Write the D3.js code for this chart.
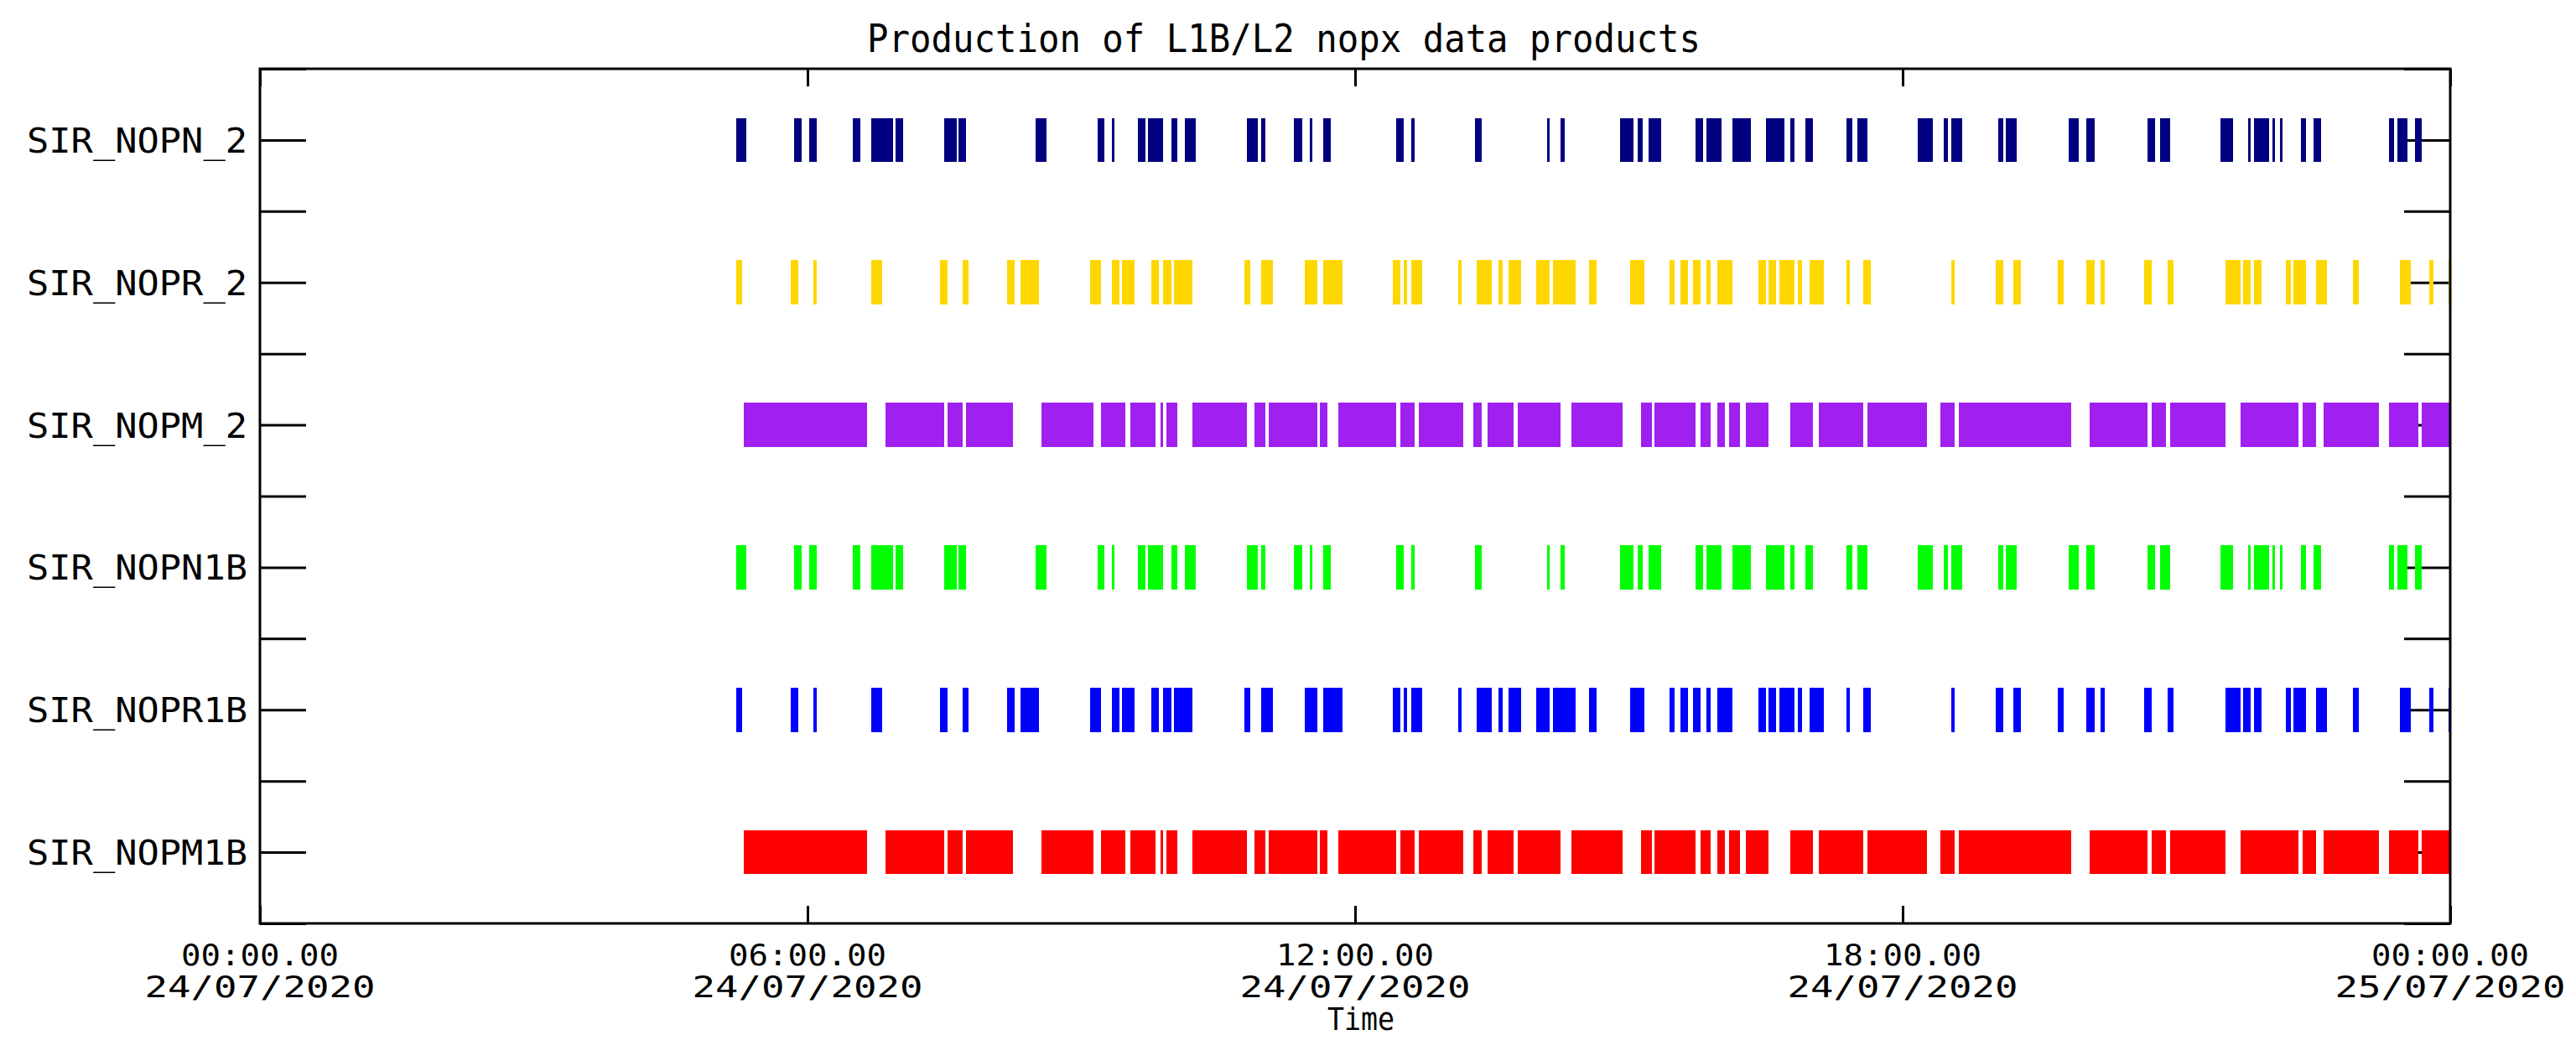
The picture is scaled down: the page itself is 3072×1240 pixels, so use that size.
<!DOCTYPE html>
<html>
<head>
<meta charset="utf-8">
<script src="https://cdn.jsdelivr.net/npm/d3@7"></script>
<style>
  body { margin: 0; background: #fff; }
  svg { display: block; }
  text { font-family: "DejaVu Sans Mono", monospace; fill: #000; }
</style>
</head>
<body>
<svg id="chart" width="3072" height="1240"></svg>
<script>
// Products, bottom row first
var products = ["SIR_NOPM1B", "SIR_NOPR1B", "SIR_NOPN1B", "SIR_NOPM_2", "SIR_NOPR_2", "SIR_NOPN_2"];
var colours  = ["#ff0000", "#0000ff", "#00ff00", "#a020f0", "#ffd700", "#000080"];

// Time axis ticks (hours from 24/07/2020 00:00) and their two-line labels
var tickHours = [0, 6, 12, 18, 24];
var tickTime  = ["00:00.00", "06:00.00", "12:00.00", "18:00.00", "00:00.00"];
var tickDate  = ["24/07/2020", "24/07/2020", "24/07/2020", "24/07/2020", "25/07/2020"];

// Production intervals (start-end, HH:MM)
var nopn_2 = ["05:13-05:20", "05:51-05:56", "06:01-06:06", "06:30-06:35", "06:42-06:56",
  "06:58-07:03", "07:30-07:38", "07:39-07:44", "08:30-08:37", "09:11-09:15", "09:20-09:22",
  "09:37-09:42", "09:44-09:54", "09:59-10:03", "10:08-10:15", "10:49-10:56", "10:58-11:01",
  "11:20-11:25", "11:30-11:32", "11:39-11:44", "12:27-12:32", "12:37-12:39", "13:19-13:23",
  "14:06-14:08", "14:15-14:18", "14:54-15:03", "15:06-15:09", "15:13-15:21", "15:44-15:49",
  "15:51-16:01", "16:08-16:20", "16:30-16:42", "16:46-16:49", "16:56-17:01", "17:23-17:27",
  "17:30-17:37", "18:10-18:20", "18:27-18:30", "18:32-18:39", "19:03-19:06", "19:08-19:15",
  "19:49-19:56", "20:01-20:06", "20:41-20:46", "20:49-20:56", "21:29-21:37", "21:47-21:49",
  "21:51-22:01", "22:03-22:05", "22:08-22:10", "22:22-22:25", "22:30-22:35", "23:20-23:23",
  "23:25-23:32", "23:37-23:41"];

var nopr_2 = ["05:13-05:17", "05:49-05:54", "06:04-06:06", "06:42-06:49", "07:27-07:32",
  "07:42-07:46", "08:11-08:16", "08:20-08:32", "09:06-09:13", "09:20-09:25", "09:27-09:35",
  "09:46-09:51", "09:54-09:59", "10:01-10:13", "10:47-10:51", "10:58-11:06", "11:27-11:35",
  "11:39-11:52", "12:25-12:30", "12:32-12:34", "12:37-12:44", "13:08-13:10", "13:20-13:30",
  "13:34-13:37", "13:41-13:49", "13:59-14:08", "14:10-14:25", "14:34-14:39", "15:01-15:10",
  "15:27-15:30", "15:34-15:39", "15:42-15:47", "15:51-15:54", "15:58-16:08", "16:25-16:30",
  "16:32-16:37", "16:39-16:49", "16:51-16:54", "16:59-17:08", "17:23-17:25", "17:34-17:39",
  "18:32-18:34", "19:01-19:06", "19:13-19:18", "19:42-19:46", "20:01-20:06", "20:10-20:13",
  "20:39-20:44", "20:54-20:58", "21:32-21:42", "21:44-21:49", "21:51-21:56", "22:12-22:15",
  "22:17-22:25", "22:32-22:39", "22:56-23:00", "23:27-23:34", "23:46-23:49", "23:59-24:00"];

var nopm_2 = ["05:18-06:39", "06:51-07:30", "07:32-07:42", "07:44-08:15", "08:34-09:08",
  "09:13-09:29", "09:32-09:49", "09:52-09:54", "09:56-10:03", "10:13-10:49", "10:54-11:01",
  "11:03-11:35", "11:37-11:42", "11:49-12:27", "12:30-12:39", "12:42-13:11", "13:18-13:23",
  "13:27-13:44", "13:47-14:15", "14:22-14:56", "15:08-15:15", "15:17-15:44", "15:47-15:54",
  "15:58-16:03", "16:06-16:13", "16:17-16:32", "16:46-17:01", "17:05-17:34", "17:37-18:16",
  "18:25-18:34", "18:37-19:51", "20:03-20:41", "20:44-20:53", "20:56-21:32", "21:42-22:20",
  "22:23-22:32", "22:37-23:13", "23:20-23:39", "23:41-24:00"];

// the L1B rows show the same pattern as their L2 rows
var nopn1b = nopn_2.slice();
var nopr1b = nopr_2.slice();
var nopm1b = nopm_2.slice();

var intervals = [nopm1b, nopr1b, nopn1b, nopm_2, nopr_2, nopn_2];

// Plot frame
var plotL = 310, plotR = 2922, plotT = 82, plotB = 1101;

var svg = d3.select("#chart");
var day0 = new Date(2020, 6, 24);

var x = d3.scaleTime()
  .domain([day0, d3.timeDay.offset(day0, 1)])
  .range([plotL, plotR]);
var y = d3.scaleLinear()
  .domain([0.5, 6.5])
  .range([plotB, plotT]);

function toDate(hhmm) {
  var p = hhmm.split(":");
  return d3.timeMinute.offset(day0, (+p[0]) * 60 + (+p[1]));
}

// Ticks on all four sides, pointing inward
var xTicks = tickHours.map(function(h) { return d3.timeHour.offset(day0, h); });
var yTicks = d3.range(0.5, 6.51, 0.5);

function styleAxis(g) {
  g.select(".domain").remove();
  g.selectAll(".tick line").attr("stroke", "#000").attr("stroke-width", 3);
  g.selectAll(".tick text").remove();
}

svg.append("g")
  .attr("transform", "translate(0," + plotB + ")")
  .call(d3.axisBottom(x).tickValues(xTicks).tickSizeInner(-21).tickSizeOuter(0))
  .call(styleAxis);
svg.append("g")
  .attr("transform", "translate(0," + plotT + ")")
  .call(d3.axisTop(x).tickValues(xTicks).tickSizeInner(-21).tickSizeOuter(0))
  .call(styleAxis);
svg.append("g")
  .attr("transform", "translate(" + plotL + ",0)")
  .call(d3.axisLeft(y).tickValues(yTicks).tickSizeInner(-55).tickSizeOuter(0))
  .call(styleAxis);
svg.append("g")
  .attr("transform", "translate(" + plotR + ",0)")
  .call(d3.axisRight(y).tickValues(yTicks).tickSizeInner(-55).tickSizeOuter(0))
  .call(styleAxis);

// Bars: one row per product
var half = 0.155;
products.forEach(function(name, i) {
  var row = i + 1;
  svg.append("g")
    .selectAll("rect")
    .data(intervals[i])
    .enter()
    .append("rect")
      .attr("x", function(d) { return x(toDate(d.split("-")[0])); })
      .attr("width", function(d) {
        var se = d.split("-");
        return x(toDate(se[1])) - x(toDate(se[0]));
      })
      .attr("y", y(row + half))
      .attr("height", y(row - half) - y(row + half))
      .attr("fill", colours[i])
      .attr("shape-rendering", "crispEdges");
});

// Frame
svg.append("rect")
  .attr("x", plotL).attr("y", plotT)
  .attr("width", plotR - plotL).attr("height", plotB - plotT)
  .attr("fill", "none").attr("stroke", "#000").attr("stroke-width", 3);

// Row labels
svg.append("g")
  .selectAll("text")
  .data(products)
  .enter()
  .append("text")
    .attr("x", 295)
    .attr("y", function(d, i) { return y(i + 1) + 15; })
    .attr("text-anchor", "end")
    .attr("font-size", 40)
    .attr("textLength", 263)
    .attr("lengthAdjust", "spacingAndGlyphs")
    .text(function(d) { return d; });

// Time labels, two lines each
var xl = svg.append("g")
  .selectAll("g")
  .data(xTicks)
  .enter()
  .append("g");
xl.append("text")
  .attr("x", function(d) { return x(d); })
  .attr("y", 1151)
  .attr("text-anchor", "middle")
  .attr("font-size", 36)
  .attr("textLength", 188)
  .attr("lengthAdjust", "spacingAndGlyphs")
  .text(function(d, i) { return tickTime[i]; });
xl.append("text")
  .attr("x", function(d) { return x(d); })
  .attr("y", 1189)
  .attr("text-anchor", "middle")
  .attr("font-size", 36)
  .attr("textLength", 275)
  .attr("lengthAdjust", "spacingAndGlyphs")
  .text(function(d, i) { return tickDate[i]; });

// Axis title and plot title
svg.append("text")
  .attr("x", 1623).attr("y", 1228)
  .attr("text-anchor", "middle")
  .attr("font-size", 38)
  .attr("textLength", 80)
  .attr("lengthAdjust", "spacingAndGlyphs")
  .text("Time");

svg.append("text")
  .attr("x", 1531).attr("y", 62)
  .attr("text-anchor", "middle")
  .attr("font-size", 46)
  .attr("textLength", 994)
  .attr("lengthAdjust", "spacingAndGlyphs")
  .text("Production of L1B/L2 nopx data products");
</script>
</body>
</html>
